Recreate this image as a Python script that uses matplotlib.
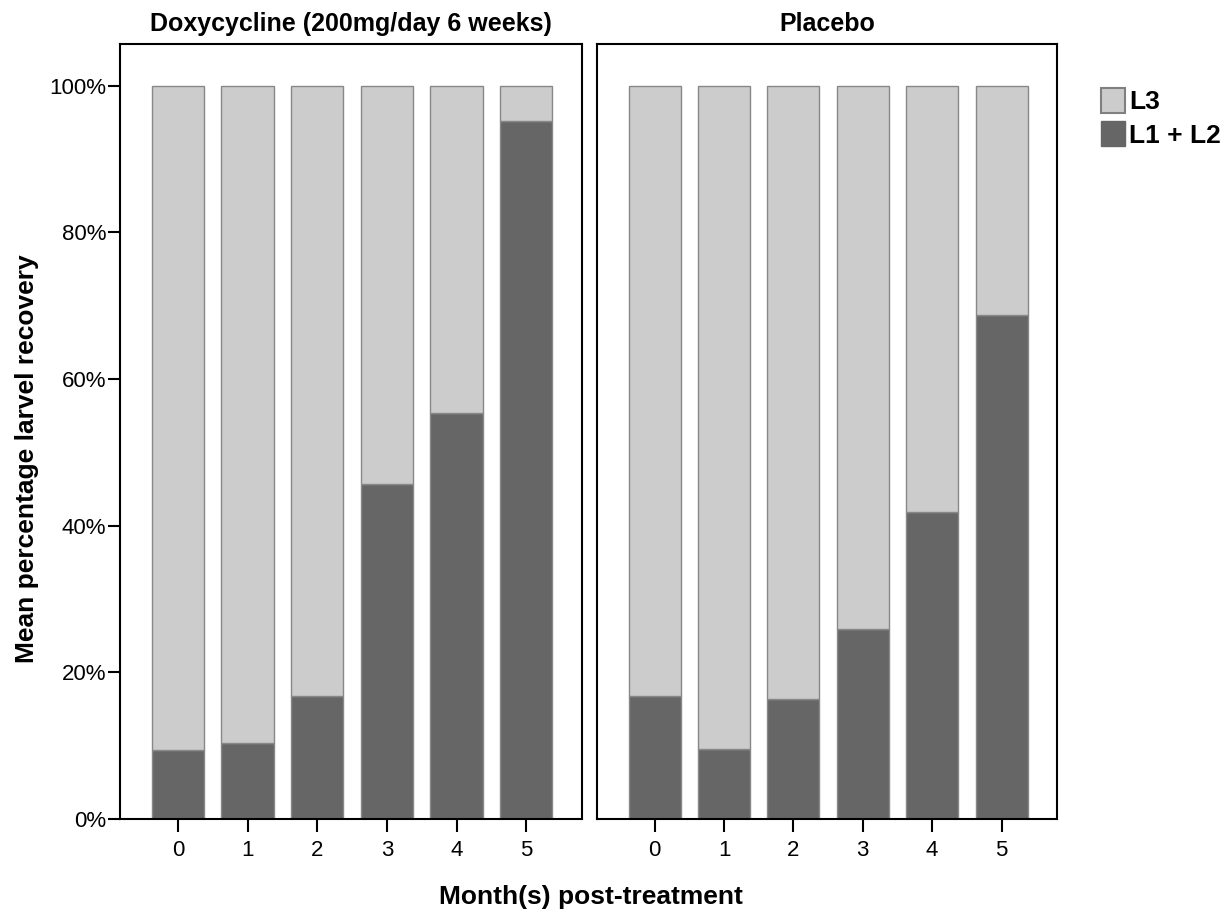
import matplotlib
matplotlib.use("Agg")
import matplotlib.pyplot as plt
from matplotlib.patches import Patch
from matplotlib.ticker import FuncFormatter

plt.rcParams["font.family"] = ["Liberation Sans", "DejaVu Sans"]

months = [0, 1, 2, 3, 4, 5]
panel_titles = ["Doxycycline (200mg/day 6 weeks)", "Placebo"]
# L1 + L2 mean percentage (dark, bottom); L3 fills up to 100%
doxy_l12 = [9.4, 10.4, 16.8, 45.7, 55.4, 95.2]
placebo_l12 = [16.8, 9.5, 16.4, 25.9, 41.9, 68.8]
yticks = [0, 20, 40, 60, 80, 100]

light = "#cccccc"
dark = "#666666"
edge = "#888888"

fig = plt.figure(figsize=(12.3, 9.14), dpi=100)
ax1 = fig.add_axes([0.0976, 0.1039, 0.3756, 0.848])
ax2 = fig.add_axes([0.4854, 0.1039, 0.374, 0.848])

for i, (ax, l12, title) in enumerate(zip([ax1, ax2], [doxy_l12, placebo_l12], panel_titles)):
    l3 = [100 - v for v in l12]
    ax.bar(months, l12, width=0.75, color=dark, edgecolor=edge, linewidth=1)
    ax.bar(months, l3, bottom=l12, width=0.75, color=light, edgecolor=edge, linewidth=1)
    ax.set_xlim(-0.83, 5.8)
    ax.set_ylim(0, 105.7)
    ax.set_xticks(months)
    ax.set_xticklabels([str(m) for m in months], fontsize=16)
    ax.tick_params(axis="x", length=9, width=1.5, pad=6)
    ax.set_title(title, fontsize=18, fontweight="bold", pad=9)
    for s in ax.spines.values():
        s.set_linewidth(1.5)
    if i == 0:
        ax.set_yticks(yticks)
        ax.yaxis.set_major_formatter(FuncFormatter(lambda v, p: f"{int(v)}%"))
        ax.tick_params(axis="y", length=9, width=1.5, labelsize=16, pad=1)
    else:
        ax.set_yticks([])

fig.text(0.022, 0.498, "Mean percentage larvel recovery", rotation=90, ha="center", va="center",
         fontsize=19, fontweight="bold")
fig.text(0.4805, 0.019, "Month(s) post-treatment", ha="center", va="center",
         fontsize=19, fontweight="bold")

handles = [Patch(facecolor=light, edgecolor="#808080", linewidth=1.5, label="L3"),
           Patch(facecolor=dark, edgecolor=dark, label="L1 + L2")]
fig.legend(handles=handles, loc="upper left", bbox_to_anchor=(0.8955, 0.904),
           frameon=False, prop={"size": 19, "weight": "bold"}, borderpad=0, borderaxespad=0,
           handlelength=0.91, handleheight=1.1, handletextpad=0.15, labelspacing=0.25)

fig.savefig("out.png", dpi=100)
